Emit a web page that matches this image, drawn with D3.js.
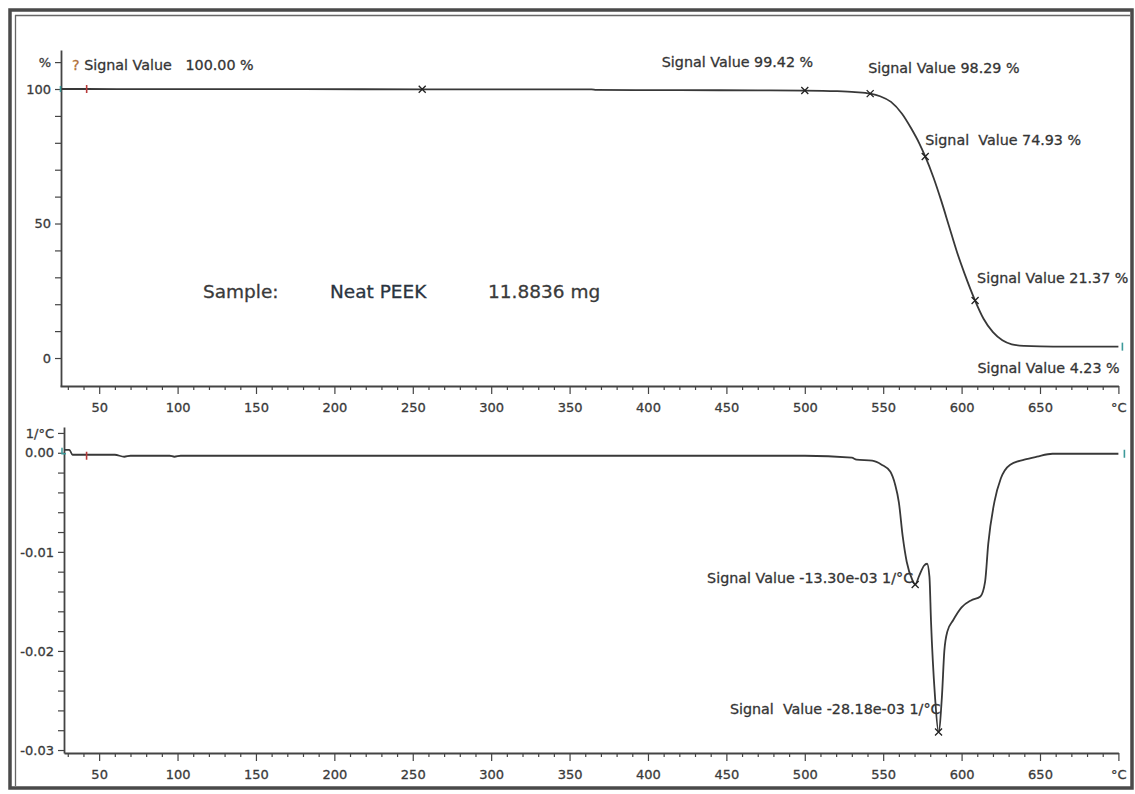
<!DOCTYPE html>
<html><head><meta charset="utf-8">
<script src="https://cdn.jsdelivr.net/npm/d3@7"></script>
<style>
html,body{margin:0;padding:0;background:#fff;}
svg{display:block;font-family:"DejaVu Sans",sans-serif;}
text{white-space:pre;}
</style></head><body>
<svg id="c" width="1135" height="794"></svg>
<script>
// ---------- DATA ----------
const tgaTemp = [25, 42, 80, 120, 180, 256, 320, 364, 367, 420, 470, 500, 520, 532, 541.7, 548, 555, 562, 568, 573, 576.8, 582, 587, 592, 597, 602, 608.6, 614, 620, 626, 632, 640, 650, 670, 700];
const tgaMass = [100, 100, 99.98, 99.96, 99.93, 99.9, 99.88, 99.86, 99.65, 99.58, 99.5, 99.42, 99.2, 98.85, 98.29, 97.3, 95.2, 90.8, 85.2, 79.8, 74.93, 67.2, 58.5, 49.0, 39.5, 31.2, 21.37, 14.6, 9.6, 6.6, 5.1, 4.5, 4.3, 4.25, 4.23];

const dtgTemp = [27.7, 31, 33, 60, 66, 70, 95, 98, 102, 150, 250, 350, 450, 500, 530, 533, 543, 549, 554.5, 557.6, 560, 562.5, 565, 568.5, 570.4, 573, 576, 578, 579.5, 580.5, 583, 585.3, 587.5, 589, 591, 594.6, 600, 606, 612, 615, 617, 621, 625, 631, 640, 648, 658, 680, 700];
const dtgRate = [0.0003, 0.0003, -0.0002, -0.0002, -0.0004, -0.0003, -0.0003, -0.0004, -0.0003, -0.0003, -0.0003, -0.0003, -0.0003, -0.0003, -0.0005, -0.0007, -0.0008, -0.0012, -0.0019, -0.0032, -0.0050, -0.0085, -0.0110, -0.0128, -0.0133, -0.0124, -0.0114, -0.0112, -0.0125, -0.0170, -0.0245, -0.02818, -0.0245, -0.0200, -0.0180, -0.0169, -0.0156, -0.0149, -0.0145, -0.0130, -0.0092, -0.0049, -0.0026, -0.0012, -0.0007, -0.0004, -0.0001, -0.0001, -0.0001];

const tgaMarkTemp = [256, 500, 541.7, 576.8, 608.6];
const tgaMarkValue = [99.9, 99.42, 98.29, 74.93, 21.37];
const tgaMarkLabel = ["", "Signal Value 99.42 %", "Signal Value 98.29 %", "Signal  Value 74.93 %", "Signal Value 21.37 %"];
const tgaStartLabel = " Signal Value   100.00 %";
const tgaEndLabel = "Signal Value 4.23 %";
const tgaEndValue = 4.23;

const dtgMarkTemp = [570.4, 585.3];
const dtgMarkValue = [-0.0133, -0.02818];
const dtgMarkLabel = ["Signal Value -13.30e-03 1/°C", "Signal  Value -28.18e-03 1/°C"];

const sampleTexts = ["Sample:", "Neat PEEK", "11.8836 mg"];

const xTickValues = [50, 100, 150, 200, 250, 300, 350, 400, 450, 500, 550, 600, 650, 700];
const xTickLabels = ["50", "100", "150", "200", "250", "300", "350", "400", "450", "500", "550", "600", "650", "°C"];
const yTopTickValues = [0, 50, 100, 110];
const yTopTickLabels = ["0", "50", "100", "%"];
const yBotTickValues = [-0.03, -0.02, -0.01, 0, 0.002];
const yBotTickLabels = ["-0.03", "-0.02", "-0.01", "0.00", "1/°C"];
const startTemp = 42;

// ---------- LAYOUT ----------
const svg = d3.select("#c");
const ink = "#383838", axisCol = "#444", teal = "#3d9a9a", red = "#b83a3a";

// frame
svg.append("rect").attr("x", 10).attr("y", 10).attr("width", 1122).attr("height", 778)
  .attr("fill", "none").attr("stroke", "#4a4a4a").attr("stroke-width", 3.5);
svg.append("line").attr("x1", 15.5).attr("x2", 15.5).attr("y1", 15).attr("y2", 786).attr("stroke", "#666").attr("stroke-width", 1.3);
svg.append("line").attr("x1", 15).attr("x2", 1130).attr("y1", 15.5).attr("y2", 15.5).attr("stroke", "#666").attr("stroke-width", 1.3);

const xTop = d3.scaleLinear().domain([25, 700]).range([60, 1118.4]);
const xBot = d3.scaleLinear().domain([27.6, 700]).range([64, 1118.4]);
const yTop = d3.scaleLinear().domain([-10.4, 114.5]).range([386, 50]);
const yBot = d3.scaleLinear().domain([-0.0303, 0.0026]).range([753, 427]);

const minorX = d3.range(30, 701, 10);
const heavy = sel => sel.attr("stroke", "#3a3a3a").attr("stroke-width", 0.3);

function drawXAxis(x, y0) {
  const g = svg.append("g").attr("transform", `translate(0,${y0})`);
  const ax = d3.axisBottom(x).tickValues(minorX).tickSize(4).tickSizeOuter(0)
    .tickFormat(d => { const i = xTickValues.indexOf(d); return i >= 0 ? xTickLabels[i] : ""; });
  g.call(ax);
  g.select(".domain").attr("stroke", axisCol).attr("stroke-width", 1.8);
  g.selectAll(".tick line").attr("stroke", axisCol).attr("stroke-width", 1.2)
    .attr("y2", d => d % 50 === 0 ? 8 : (d % 25 === 0 ? 6 : 4));
  heavy(g.selectAll(".tick text").attr("font-size", 13).attr("fill", "#3a3a3a")
    .attr("font-family", "DejaVu Sans").attr("y", 26).attr("dy", 0));
}
function drawYAxis(y, x0, vals, labels, minor) {
  const g = svg.append("g").attr("transform", `translate(${x0},0)`);
  const ax = d3.axisLeft(y).tickValues(minor).tickSize(6).tickSizeOuter(0)
    .tickFormat(d => { const i = vals.findIndex(v => Math.abs(v - d) < 1e-9); return i >= 0 ? labels[i] : ""; });
  g.call(ax);
  g.select(".domain").attr("stroke", axisCol).attr("stroke-width", 1.8);
  g.selectAll(".tick line").attr("stroke", axisCol).attr("stroke-width", 1.2);
  heavy(g.selectAll(".tick text").attr("font-size", 13).attr("fill", "#3a3a3a")
    .attr("font-family", "DejaVu Sans").attr("x", -10));
}

drawXAxis(xTop, 386);
drawXAxis(xBot, 753);
drawYAxis(yTop, 61, yTopTickValues, yTopTickLabels, d3.range(0, 111, 10));
drawYAxis(yBot, 64, yBotTickValues, yBotTickLabels, d3.range(-15, 2).map(i => i * 0.002));

// curves
const tgaData = tgaTemp.map((t, i) => [t, tgaMass[i]]);
const dtgData = dtgTemp.map((t, i) => [t, dtgRate[i]]);
svg.append("path").datum(tgaData)
  .attr("d", d3.line().x(d => xTop(d[0])).y(d => yTop(d[1])).curve(d3.curveMonotoneX))
  .attr("fill", "none").attr("stroke", ink).attr("stroke-width", 1.8);
svg.append("path").datum(dtgData)
  .attr("d", d3.line().x(d => xBot(d[0])).y(d => yBot(d[1])).curve(d3.curveMonotoneX))
  .attr("fill", "none").attr("stroke", ink).attr("stroke-width", 1.8);

// markers
function cross(cx, cy) {
  svg.append("path").attr("d", `M${cx-3.5},${cy-3.5}L${cx+3.5},${cy+3.5}M${cx-3.5},${cy+3.5}L${cx+3.5},${cy-3.5}`)
    .attr("stroke", "#222").attr("stroke-width", 1.3);
}
function vtick(cx, cy, col, h) {
  svg.append("line").attr("x1", cx).attr("x2", cx).attr("y1", cy - h).attr("y2", cy + h)
    .attr("stroke", col).attr("stroke-width", 1.6);
}
const labStyle = sel => heavy(sel.attr("font-size", 14.3).attr("fill", "#333").attr("font-family", "DejaVu Sans"));

// top
vtick(xTop(25) + 0.5, yTop(100), teal, 3);
vtick(xTop(startTemp), yTop(100), red, 4);
vtick(xTop(700) + 4, yTop(tgaEndValue), teal, 4);
const tgaOff = [[0, 0], [-143, -24], [-2, -21], [0, -11], [2, -18]];
tgaMarkTemp.forEach((t, i) => {
  const cx = xTop(t), cy = yTop(tgaMarkValue[i]);
  cross(cx, cy);
  if (tgaMarkLabel[i]) labStyle(svg.append("text").attr("x", cx + tgaOff[i][0]).attr("y", cy + tgaOff[i][1]).text(tgaMarkLabel[i]));
});
const st = labStyle(svg.append("text").attr("x", xTop(25) + 12).attr("y", yTop(100) - 19));
st.append("tspan").attr("fill", "#b0703a").attr("stroke", "#b0703a").text("?");
st.append("tspan").text(tgaStartLabel);
labStyle(svg.append("text").attr("x", xTop(700) - 141).attr("y", yTop(tgaEndValue) + 26).text(tgaEndLabel));

// sample text
const sx = [203, 330, 488];
sampleTexts.forEach((s, i) => {
  const c = i === 1 ? "#2a3440" : "#3a3a3a";
  svg.append("text").attr("x", sx[i]).attr("y", 298).attr("font-size", 18.5)
    .attr("fill", c).attr("stroke", c).attr("stroke-width", 0.3)
    .attr("font-family", "DejaVu Sans").text(s);
});

// bottom
svg.append("path").attr("d", `M${xBot(27.6)-2},${yBot(0)-5}L${xBot(27.6)-2},${yBot(0)+1}L${xBot(27.6)+2},${yBot(0)+1}`)
  .attr("fill", "none").attr("stroke", teal).attr("stroke-width", 1.5);
vtick(xBot(startTemp), yBot(-0.0003), red, 4);
vtick(xBot(700) + 6, yBot(-0.0001), teal, 4);
const dtgOff = [[-2, -2], [2, -18]];
dtgMarkTemp.forEach((t, i) => {
  const cx = xBot(t), cy = yBot(dtgMarkValue[i]);
  cross(cx, cy);
  labStyle(svg.append("text").attr("x", cx + dtgOff[i][0]).attr("y", cy + dtgOff[i][1])
    .attr("text-anchor", "end").text(dtgMarkLabel[i]));
});
</script>
</body></html>
